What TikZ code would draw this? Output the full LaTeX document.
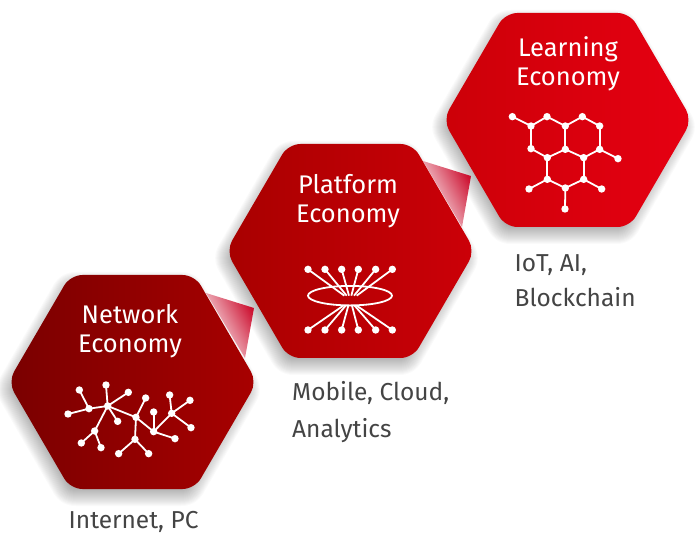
\documentclass[tikz,border=0pt]{standalone}
\usepackage{fontspec}
\usetikzlibrary{shapes.geometric}
\setmainfont{Fira Sans}
\definecolor{cA}{HTML}{7A0000}
\definecolor{cB}{HTML}{A80000}
\definecolor{cC}{HTML}{CC0008}
\definecolor{cD}{HTML}{E60012}
\definecolor{labelgrey}{HTML}{444444}
\definecolor{foldred}{HTML}{CC1030}
\newcommand{\hexpath}[2]{(#1-124.5,#2) -- (#1-62.2,#2-107) -- (#1+62.2,#2-107) -- (#1+124.5,#2) -- (#1+62.2,#2+107) -- (#1-62.2,#2+107) -- cycle}
\newcommand{\shrunkpath}[2]{(#1-106.2,#2) -- (#1-53.1,#2-92) -- (#1+53.1,#2-92) -- (#1+106.2,#2) -- (#1+53.1,#2+92) -- (#1-53.1,#2+92) -- cycle}
\newcommand{\hexshadow}[2]{%
  \foreach \w in {2,4,...,50}{%
    \draw[black,opacity=0.02,line width=\w pt,line join=round,fill=black] \shrunkpath{#1-4}{#2+7};
  }%
}
\newcommand{\foldtri}[6]{%
  \shade[left color=white,right color=foldred,shading angle=118] (#1,#2) -- (#3,#4) -- (#5,#6) -- cycle;%
}
\tikzset{
  hex/.style={rounded corners=12pt},
  dot/.style={circle,fill=white,inner sep=0pt,minimum size=7.4pt},
  link/.style={white,line width=1.8pt},
  title/.style={white,font=\fontsize{25.5}{25.5}\selectfont,anchor=base,inner sep=0pt},
  caption/.style={labelgrey,font=\fontsize{24.5}{24.5}\selectfont,anchor=base west,inner sep=0pt}
}
\begin{document}
\begin{tikzpicture}[x=1pt,y=-1pt]
\useasboundingbox (0,0) rectangle (696,534);
\begin{scope}
\clip (0,0) rectangle (696,534);
\hexshadow{567.5}{120}
\hexshadow{350.5}{251}
\hexshadow{132.5}{382}
\end{scope}
\foldtri{206}{293}{254}{308}{245}{358}
\foldtri{423}{161}{471}{176}{462}{227}
\shade[hex,left color=cA,right color=cB] \hexpath{132.5}{382};
\shade[hex,left color=cB,right color=cC] \hexpath{350.5}{251};
\shade[hex,left color=cC,right color=cD] \hexpath{567.5}{120};
\node[title] (t1a) at (130,323.5) {Network};
\node[title] (t1b) at (130,352.5) {Economy};
\node[title] (t2a) at (348,193.5) {Platform};
\node[title] (t2b) at (348,222.5) {Economy};
\node[title] (t3a) at (568,56.5) {Learning};
\node[title] (t3b) at (568,85.5) {Economy};
\node[caption] (c1) at (68.5,528.5) {Internet, PC};
\node[caption] (c2a) at (292,401) {Mobile, Cloud,};
\node[caption] (c2b) at (292,437) {Analytics};
\node[caption] (c3a) at (514.5,271.5) {IoT, AI,};
\node[caption] (c3b) at (514.5,306.5) {Blockchain};
% network icon
\begin{scope}[shift={(40,360)},x=0.3333pt,y=-0.3333pt]
\foreach \n/\x/\y in {a/118/90,b/198/75,c/265/97,d/147/146,e/203/138,f/84/162,g/233/184,h/164/213,i/124/249,j/183/263,k/317/114,l/288/172,m/285/238,n/236/281,o/326/281,p/341/156,q/341/215,r/405/236,s/389/105,t/395/160,u/450/121,v/453/203}
  \node[dot] (N\n) at (\x,\y) {};
\foreach \p/\q in {a/d,f/d,d/e,b/e,c/e,e/g,e/h,h/i,h/j,e/l,k/l,l/m,m/n,m/o,l/q,p/q,q/r,q/t,s/t,u/t,v/t}
  \draw[link] (N\p.center) -- (N\q.center);
\end{scope}
% platform icon
\begin{scope}[shift={(280,250)},x=0.3333pt,y=-0.3333pt]
\node[draw=white,line width=1.8pt,ellipse,inner sep=0pt,minimum width=84pt,minimum height=19.5pt] (Pell) at (210,137) {};
\foreach \n/\x/\ex in {1/84/193,2/135/200,3/185/207,4/235/214,5/287/222,6/337/230}{
  \node[dot] (PT\n) at (\x,58) {};
  \coordinate (PTe\n) at (\ex,137);
  \draw[link] (PT\n.center) -- (PTe\n);
}
\foreach \n/\x/\ex in {1/84/190,2/135/197,3/185/205,4/235/216,5/287/224,6/337/230}{
  \node[dot] (PB\n) at (\x,240) {};
  \coordinate (PBe\n) at (\ex,167);
  \draw[link] (PB\n.center) -- (PBe\n);
}
\end{scope}
% learning icon
\begin{scope}[shift={(495,100)},x=0.3333pt,y=-0.3333pt]
\foreach \n/\x/\y in {a/52/50,b/108/78,c/156/50,d/211/78,e/262/50,f/314/78,g/108/146,h/157/173,i/211/148,j/266/173,k/314/148,l/369/176,m/157/238,n/211/264,o/266/238,p/102/267,q/320/267,r/210/327}
  \node[dot] (L\n) at (\x,\y) {};
\foreach \p/\q in {a/b,b/c,c/d,d/e,e/f,f/k,k/j,k/l,b/g,g/h,h/i,i/d,i/j,h/m,j/o,m/n,n/o,m/p,o/q,n/r}
  \draw[link] (L\p.center) -- (L\q.center);
\end{scope}
\end{tikzpicture}
\end{document}
